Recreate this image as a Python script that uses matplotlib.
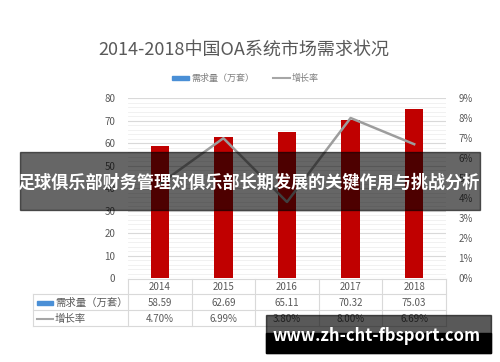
import matplotlib
matplotlib.use("Agg")
import matplotlib.pyplot as plt
from matplotlib.patches import Rectangle
from matplotlib.lines import Line2D
import matplotlib.transforms as mtransforms

plt.rcParams['font.family'] = ['Noto Sans CJK SC', 'DejaVu Sans']

years = ['2014', '2015', '2016', '2017', '2018']
demand = [58.59, 62.69, 65.11, 70.32, 75.03]
growth = [4.70, 6.99, 3.80, 8.00, 6.69]
demand_labels = ['58.59', '62.69', '65.11', '70.32', '75.03']
growth_labels = ['4.70%', '6.99%', '3.80%', '8.00%', '6.69%']
left_ticks = [0, 10, 20, 30, 40, 50, 60, 70, 80]
right_ticks = [0, 1, 2, 3, 4, 5, 6, 7, 8, 9]
title = '2014-2018中国OA系统市场需求状况'
series_names = ['需求量（万套）', '增长率']
banner = '足球俱乐部财务管理对俱乐部长期发展的关键作用与挑战分析'
watermark = 'www.zh-cht-fbsport.com'

W, H = 500, 362
fig = plt.figure(figsize=(W / 100, H / 100), dpi=100)
fig.patch.set_facecolor('white')

def fx(px):
    return px / W

def fy(py):
    return 1 - py / H

ax_l, ax_r, ax_t, ax_b = 128, 446, 98, 278
ax = fig.add_axes([fx(ax_l), fy(ax_b), fx(ax_r - ax_l), (ax_b - ax_t) / H])
txt_col = '#595959'
grid_col = '#d9d9d9'

x = list(range(len(years)))
ax.set_xlim(-0.5, len(years) - 0.5)
ax.set_ylim(0, 80)
ax.set_yticks(left_ticks)
ax.set_yticks(range(0, 81, 2), minor=True)
ax.grid(axis='y', which='major', color='#d9d9d9', lw=0.8)
ax.grid(axis='y', which='minor', color='#efefef', lw=0.6)
ax.set_axisbelow(True)
ax.bar(x, demand, width=0.29, color='#c00000', zorder=2)
for s in ax.spines.values():
    s.set_visible(False)
ax.tick_params(axis='y', which='both', length=0, labelsize=7, labelcolor=txt_col, pad=9)
ax.set_xticks([])

ax2 = ax.twinx()
ax2.set_ylim(0, 9)
ax2.set_yticks(right_ticks)
ax2.set_yticklabels([f'{v}%' for v in right_ticks])
ax2.tick_params(axis='y', length=0, labelsize=7, labelcolor=txt_col, pad=9)
for s in ax2.spines.values():
    s.set_visible(False)
ax2.plot(x, growth, color='#9d9d9d', lw=1.8, zorder=3)

# data table
trans = mtransforms.blended_transform_factory(ax.transData, fig.transFigure)
ftrans = fig.transFigure
rows_y = [279, 294, 310, 326]
lw = 0.8
ax.add_line(Line2D([-0.5, len(years) - 0.5], [fy(rows_y[0])] * 2, transform=trans, color=grid_col, lw=lw, clip_on=False))
for yy in rows_y[1:]:
    fig.add_artist(Line2D([fx(33), fx(ax_r)], [fy(yy)] * 2, transform=ftrans, color=grid_col, lw=lw))
for i in range(len(years) + 1):
    xb = i - 0.5
    ax.add_line(Line2D([xb, xb], [fy(rows_y[0]), fy(rows_y[3])], transform=trans, color=grid_col, lw=lw, clip_on=False))
fig.add_artist(Line2D([fx(33), fx(33)], [fy(rows_y[1]), fy(rows_y[3])], transform=ftrans, color=grid_col, lw=lw))

for i, yr in enumerate(years):
    ax.text(i, fy(286.5), yr, transform=trans, ha='center', va='center', fontsize=7, color=txt_col)
    ax.text(i, fy(302.5), demand_labels[i], transform=trans, ha='center', va='center', fontsize=7, color=txt_col)
    ax.text(i, fy(318.5), growth_labels[i], transform=trans, ha='center', va='center', fontsize=7, color=txt_col)

fig.add_artist(Rectangle((fx(37), fy(304.5)), fx(16), 4 / H, transform=ftrans, color='#4a8fd6'))
fig.text(fx(55), fy(302.5), series_names[0], ha='left', va='center', fontsize=7.5, color=txt_col)
fig.add_artist(Line2D([fx(37), fx(53)], [fy(318.5)] * 2, transform=ftrans, color='#a6a6a6', lw=1.5))
fig.text(fx(55), fy(318.5), series_names[1], ha='left', va='center', fontsize=7.5, color=txt_col)

# title and legend
fig.text(fx(244), fy(50), title, ha='center', va='center', fontsize=13, color=txt_col)
fig.add_artist(Rectangle((fx(172), fy(80)), fx(17), 4 / H, transform=ftrans, color='#4a8fd6'))
fig.text(fx(191), fy(78), series_names[0], ha='left', va='center', fontsize=6.5, color='#7f7f7f')
fig.add_artist(Line2D([fx(273), fx(290)], [fy(78)] * 2, transform=ftrans, color='#a6a6a6', lw=1.5))
fig.text(fx(292), fy(78), series_names[1], ha='left', va='center', fontsize=6.5, color='#7f7f7f')

# banner overlay
fig.add_artist(Rectangle((fx(20), fy(210)), fx(460), 58 / H, transform=ftrans, color='black', alpha=0.6, zorder=10))
fig.text(fx(249), fy(183), banner, ha='center', va='center', fontsize=12.3, color='white', fontweight='bold', zorder=11)

# watermark
fig.add_artist(Rectangle((fx(266), fy(353)), fx(225), 38 / H, transform=ftrans, color='black', alpha=0.65, zorder=10))
fig.add_artist(Rectangle((fx(266), fy(353)), fx(225), 20 / H, transform=ftrans, color='black', zorder=10))
fig.text(fx(377), fy(336), watermark, ha='center', va='center', fontsize=12, color='white', fontweight='bold', zorder=11)

fig.savefig('out.png', dpi=100)
